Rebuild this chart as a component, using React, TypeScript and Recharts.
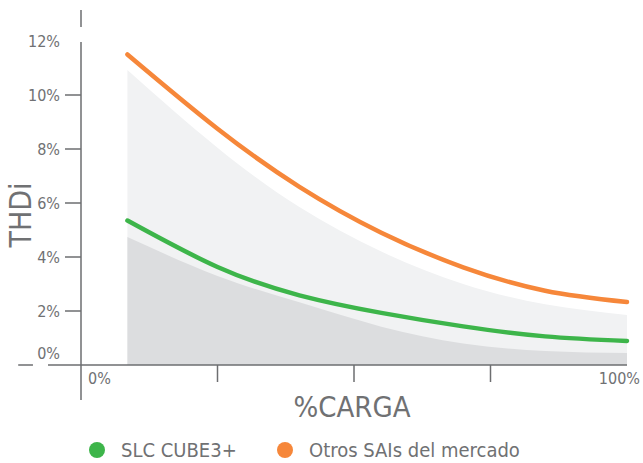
import React from "react";
import {
  ComposedChart,
  Area,
  Line,
  XAxis,
  YAxis,
  ReferenceLine,
  Legend,
} from "recharts";

// % de carga (eje X)
const loadPct = [8.5, 25, 40, 55, 70, 85, 100];
// THDi de otros SAIs (línea naranja) y su banda gris clara
const otrosSais = [11.5, 8.75, 6.6, 4.9, 3.62, 2.75, 2.33];
const otrosBand = [10.93, 8.05, 5.85, 4.2, 3.0, 2.25, 1.85];
// THDi SLC CUBE3+ (línea verde) y su banda gris oscura
const slcCube = [5.35, 3.63, 2.58, 1.93, 1.43, 1.06, 0.89];
const slcBand = [4.74, 3.3, 2.32, 1.42, 0.8, 0.52, 0.44];

const yTicks = [0, 2, 4, 6, 8, 10, 12];
const xTicks = [0, 25, 50, 75, 100];
const seriesNames = ["SLC CUBE3+", "Otros SAIs del mercado"];

const GREEN = "#3db54a";
const ORANGE = "#f6873a";
const AXIS = "#6d6e70";
const TEXT = "#707173";
const FONT = "'Liberation Sans Narrow', 'DejaVu Sans Condensed', 'Roboto', sans-serif";

const data = loadPct.map((x, i) => ({
  x,
  otros: otrosSais[i],
  otrosBand: otrosBand[i],
  slc: slcCube[i],
  slcBand: slcBand[i],
}));

function YTick({ x, y, payload }: any) {
  const v = payload.value as number;
  const showLine = v > 0 && v < 12;
  return (
    <g>
      {showLine && <line x1={x - 16} x2={x} y1={y} y2={y} stroke={AXIS} strokeWidth={1.5} />}
      <text
        x={x - 21}
        y={v === 0 ? y - 12 : y}
        textAnchor="end"
        dominantBaseline="central"
        fill={TEXT}
        fontSize={16}
        fontFamily={FONT}
      >
        {`${v}%`}
      </text>
    </g>
  );
}

function XTick({ x, y, payload }: any) {
  const v = payload.value as number;
  if (v === 0 || v === 100) {
    return (
      <text
        x={v === 0 ? x + 7 : x + 13}
        y={y + 13}
        textAnchor={v === 0 ? "start" : "end"}
        dominantBaseline="central"
        fill={TEXT}
        fontSize={16}
        fontFamily={FONT}
      >
        {`${v}%`}
      </text>
    );
  }
  return <line x1={x} x2={x} y1={y} y2={y + 17} stroke={AXIS} strokeWidth={1.5} />;
}

function LegendContent() {
  const colors = [GREEN, ORANGE];
  const lefts = [89, 277];
  return (
    <div style={{ position: "relative", height: 36, width: 643, fontFamily: FONT }}>
      {seriesNames.map((name, i) => (
        <div
          key={name}
          style={{
            position: "absolute",
            left: lefts[i],
            top: 14,
            display: "flex",
            alignItems: "center",
            color: TEXT,
            fontSize: 20,
            lineHeight: "18px",
          }}
        >
          <span
            style={{
              width: 16,
              height: 16,
              borderRadius: 8,
              background: colors[i],
              display: "inline-block",
              marginRight: 16,
            }}
          />
          {name}
        </div>
      ))}
    </div>
  );
}

export default function App() {
  return (
    <div style={{ position: "absolute", left: 0, top: 0, background: "#fff" }}>
      <ComposedChart
        width={643}
        height={463}
        data={data}
        margin={{ top: 41, right: 16, bottom: 0, left: 0 }}
      >
        <XAxis
          dataKey="x"
          type="number"
          domain={[0, 100]}
          ticks={xTicks}
          tick={<XTick />}
          tickSize={0}
          tickMargin={0}
          axisLine={false}
          tickLine={false}
          height={62}
          interval={0}
          label={{
            content: ({ viewBox }: any) => (
              <text
                x={viewBox.x + viewBox.width / 2 - 2}
                y={417}
                textAnchor="middle"
                fill={TEXT}
                fontSize={29}
                fontFamily={FONT}
              >
                %CARGA
              </text>
            ),
          }}
        />
        <YAxis
          type="number"
          domain={[0, 12]}
          ticks={yTicks}
          tick={<YTick />}
          tickSize={0}
          tickMargin={0}
          axisLine={false}
          tickLine={false}
          width={81}
          interval={0}
          label={{
            content: () => (
              <text
                x={0}
                y={0}
                transform="translate(31 215) rotate(-90)"
                textAnchor="middle"
                fill={TEXT}
                fontSize={30}
                fontFamily={FONT}
              >
                THDi
              </text>
            ),
          }}
        />
        <Legend
          content={<LegendContent />}
          verticalAlign="bottom"
          wrapperStyle={{ left: 0, bottom: 0, width: 643, height: 36 }}
        />
        <Area
          dataKey="otrosBand"
          type="natural"
          fill="#f1f2f3"
          fillOpacity={1}
          stroke="none"
          isAnimationActive={false}
          legendType="none"
        />
        <Area
          dataKey="slcBand"
          type="natural"
          fill="#dcdddf"
          fillOpacity={1}
          stroke="none"
          isAnimationActive={false}
          legendType="none"
        />
        <ReferenceLine
          segment={[{ x: 0, y: -1.3 }, { x: 0, y: 11.96 }]}
          stroke={AXIS}
          strokeWidth={1.5}
          ifOverflow="visible"
        />
        <ReferenceLine
          segment={[{ x: 0, y: 12.52 }, { x: 0, y: 13.15 }]}
          stroke={AXIS}
          strokeWidth={1.5}
          ifOverflow="visible"
        />
        <ReferenceLine
          segment={[{ x: -6.04, y: 0 }, { x: 100, y: 0 }]}
          stroke={AXIS}
          strokeWidth={1.5}
          ifOverflow="visible"
        />
        <ReferenceLine
          segment={[{ x: -11.5, y: 0 }, { x: -8.8, y: 0 }]}
          stroke={AXIS}
          strokeWidth={1.5}
          ifOverflow="visible"
        />
        <Line
          dataKey="slc"
          name={seriesNames[0]}
          type="natural"
          stroke={GREEN}
          strokeWidth={4.5}
          strokeLinecap="round"
          dot={false}
          isAnimationActive={false}
        />
        <Line
          dataKey="otros"
          name={seriesNames[1]}
          type="natural"
          stroke={ORANGE}
          strokeWidth={4.5}
          strokeLinecap="round"
          dot={false}
          isAnimationActive={false}
        />
      </ComposedChart>
    </div>
  );
}
